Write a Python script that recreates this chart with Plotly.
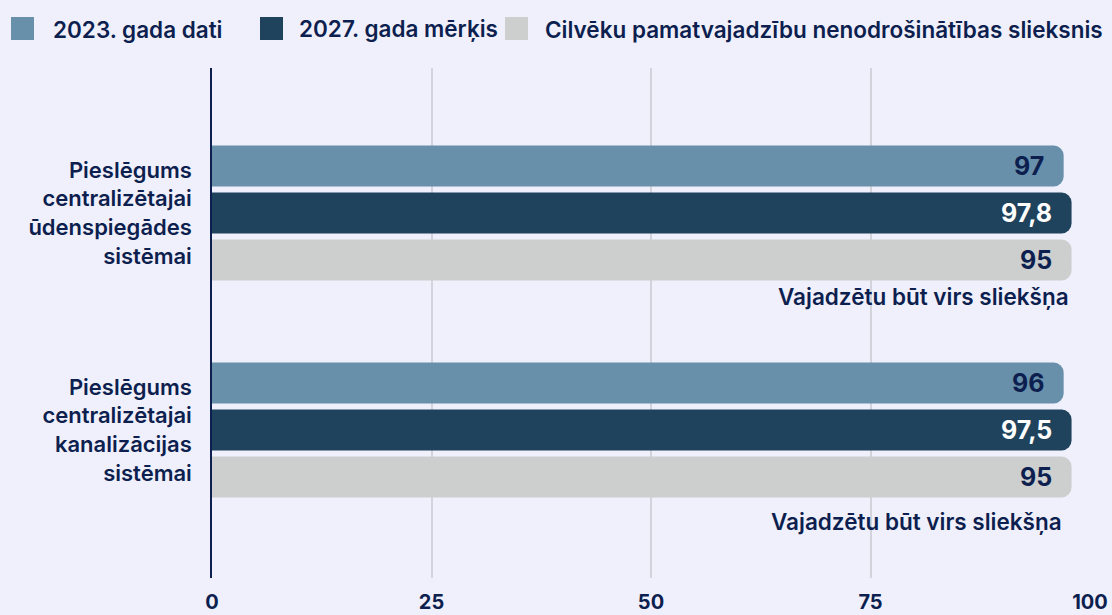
import plotly.graph_objects as go

# --- data ---
categories = [
    "Pieslēgums<br>centralizētajai<br>ūdenspiegādes<br>sistēmai",
    "Pieslēgums<br>centralizētajai<br>kanalizācijas<br>sistēmai",
]
series_names = [
    "2023. gada dati",
    "2027. gada mērķis",
    "Cilvēku pamatvajadzību nenodrošinātības slieksnis",
]
# labels printed in the bars
labels_2023 = ["97", "96"]
labels_2027 = ["97,8", "97,5"]
labels_threshold = ["95", "95"]
# bar lengths as drawn in the picture
values_2023 = [97, 97]
values_2027 = [97.9, 97.9]
values_threshold = [97.9, 97.9]
note_text = "Vajadzētu būt virs sliekšņa"
x_ticks = [0, 25, 50, 75, 100]

colors = ["#6890ab", "#1f435c", "#cdcfcf"]
label_colors = ["#0d1f4f", "#ffffff", "#0d1f4f"]
navy = "#0d1f4f"
bg = "#f0f0fc"
font_family = "Inter, Lato, sans-serif"

W, H = 1112, 615
M = dict(l=212, r=22, t=68, b=37)
plot_w = W - M["l"] - M["r"]
plot_h = H - M["t"] - M["b"]


def px_x(px):
    return (px - M["l"]) / plot_w


def px_y(py):
    return (H - M["b"] - py) / plot_h


fig = go.Figure()

all_values = [values_2023, values_2027, values_threshold]
all_labels = [labels_2023, labels_2027, labels_threshold]

for name, vals, color in zip(series_names, all_values, colors):
    fig.add_trace(
        go.Bar(
            y=categories,
            x=vals,
            orientation="h",
            name=name,
            marker=dict(color=color, cornerradius=10, line=dict(width=0)),
            showlegend=False,
        )
    )

# value labels at the right end of each bar
offsets = [-1, 0, 1]
annotations = []
for vals, labs, lcol, off in zip(all_values, all_labels, label_colors, offsets):
    for i, (v, lab) in enumerate(zip(vals, labs)):
        annotations.append(
            dict(
                x=v,
                y=i + off * 0.2166,
                xref="x",
                yref="y",
                text=lab,
                showarrow=False,
                xanchor="right",
                yanchor="middle",
                xshift=-18,
                font=dict(size=25, color=lcol, family=font_family, weight=700),
            )
        )

# threshold notes below each group
note_xshift = [-1, -8]
note_yshift = [-84, -92]
for i, v in enumerate(values_threshold):
    annotations.append(
        dict(
            x=v,
            y=i,
            xref="x",
            yref="y",
            text=note_text,
            showarrow=False,
            xanchor="right",
            yanchor="middle",
            xshift=note_xshift[i],
            yshift=note_yshift[i],
            font=dict(size=22.5, color=navy, family=font_family, weight=600),
        )
    )

# hand-made legend across the top
shapes = []
legend_square_left = [11, 260, 505]
legend_text_left = [51, 297, 543]
for name, color, sq, tx in zip(series_names, colors, legend_square_left, legend_text_left):
    shapes.append(
        dict(
            type="rect",
            xref="paper",
            yref="paper",
            x0=px_x(sq),
            x1=px_x(sq + 23),
            y0=px_y(40),
            y1=px_y(17),
            fillcolor=color,
            line=dict(width=0),
        )
    )
    annotations.append(
        dict(
            x=px_x(tx),
            y=px_y(29),
            xref="paper",
            yref="paper",
            text=name,
            showarrow=False,
            xanchor="left",
            yanchor="middle",
            font=dict(size=22.5, color=navy, family=font_family, weight=600),
        )
    )

fig.update_layout(
    width=W,
    height=H,
    barmode="group",
    bargap=0.35,
    bargroupgap=0.13,
    paper_bgcolor=bg,
    plot_bgcolor=bg,
    margin=dict(**M, autoexpand=False),
    font=dict(family=font_family, color=navy, size=18, weight=600),
    annotations=annotations,
    shapes=shapes,
    showlegend=False,
    xaxis=dict(
        range=[0, 100],
        tickvals=x_ticks,
        showgrid=True,
        gridcolor="#d3d3dc",
        gridwidth=1.5,
        zeroline=False,
        ticks="",
        ticklabelstandoff=10,
        tickfont=dict(size=20, color=navy, family=font_family, weight=700),
        fixedrange=True,
    ),
    yaxis=dict(
        type="category",
        categoryorder="array",
        categoryarray=categories,
        range=[1.682, -0.668],
        showline=True,
        linecolor=navy,
        linewidth=1.5,
        showgrid=False,
        ticks="",
        ticklabelstandoff=14,
        tickfont=dict(size=22, color=navy, family=font_family, weight=600),
        fixedrange=True,
    ),
)

# page margin off so the figure sits flush in the window
fig.write_html(
    "out.html",
    config={"displayModeBar": False},
    post_script="document.body.style.margin='0';document.body.style.background='" + bg + "';",
)
